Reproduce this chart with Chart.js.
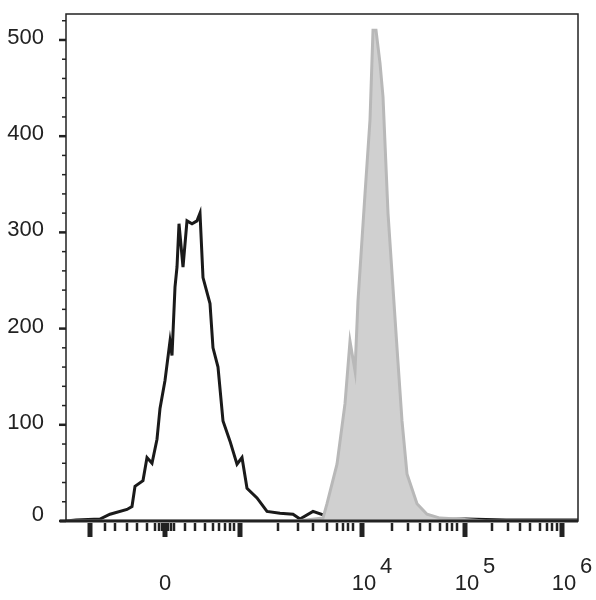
<!DOCTYPE html>
<html><head><meta charset="utf-8">
<script src="https://cdn.jsdelivr.net/npm/chart.js@4"></script>
<style>html,body{margin:0;background:#fff}#wrap{width:596px;height:600px}</style>
</head><body><div id="wrap"><canvas id="c"></canvas></div>
<script>
// channel = horizontal position on the biexponential display scale (0..512)
const unstainedX = [0,10,34,44,61,66,69,77,81,86,91,94,99,104,106,109,111,113,117,121,126,131,134,137,144,147,152,157,164,171,176,181,191,201,214,227,234,247,261,280,300,330,360,400,440,480,512];
const unstainedY = [0,1,2,7,12,15,36,42,66,60,85,117,146,187,172,243,264,309,264,312,309,312,320,253,226,180,160,104,83,59,66,34,24,10,8,7,2,10,5,4,3,2,1,2,1,1,1];
const stainedX = [0,230,240,257,261,271,279,284,289,292,299,304,307,310,314,317,322,331,336,341,351,361,374,391,420,512];
const stainedY = [0,0,1,3,18,59,122,187,156,229,340,417,510,510,476,441,320,180,104,49,18,7,3,2,0,0];
const yMajor = [0,100,200,300,400,500];
const yMinor = [20,40,60,80,120,140,160,180,220,240,260,280,320,340,360,380,420,440,460,480,520];
const xMajor = [24,99,174,296,399,496];
const xMinor = [39,49,61,71,81,89,93,96,102,105,108,119,129,139,147,153,159,164,168,212,232,247,261,271,277,282,287,326,342,354,364,374,381,386,391,426,442,454,464,474,481,486,491];
const xLabels = [{v:99,base:'0',sup:''},{v:296,base:'10',sup:'4'},{v:399,base:'10',sup:'5'},{v:496,base:'10',sup:'6'}];

const toPts = (xs, ys) => xs.map((x, i) => ({ x, y: ys[i] }));

Chart.register({
  id: 'flowAxes',
  afterDraw(chart) {
    const { ctx, chartArea: a, scales: { x, y } } = chart;
    ctx.save();
    ctx.strokeStyle = '#222';
    ctx.lineWidth = 1.5;
    ctx.strokeRect(a.left, a.top, a.right - a.left, a.bottom - a.top);
    ctx.lineWidth = 3;
    ctx.beginPath(); ctx.moveTo(a.left - 6, a.bottom); ctx.lineTo(a.right, a.bottom); ctx.stroke();
    // y ticks
    ctx.lineWidth = 2.5;
    yMajor.forEach(v => { const p = y.getPixelForValue(v); ctx.beginPath(); ctx.moveTo(a.left - 7, p); ctx.lineTo(a.left, p); ctx.stroke(); });
    ctx.lineWidth = 1.5;
    yMinor.forEach(v => { const p = y.getPixelForValue(v); ctx.beginPath(); ctx.moveTo(a.left - 4, p); ctx.lineTo(a.left, p); ctx.stroke(); });
    ctx.fillStyle = '#222';
    ctx.font = '22px "Liberation Sans", Arial';
    ctx.textAlign = 'right'; ctx.textBaseline = 'middle';
    yMajor.forEach(v => ctx.fillText(String(v), a.left - 22, y.getPixelForValue(v) - (v === 0 ? 6 : 2)));
    // x ticks
    ctx.lineWidth = 5;
    xMajor.forEach(v => { const p = x.getPixelForValue(v); ctx.beginPath(); ctx.moveTo(p, a.bottom + 2); ctx.lineTo(p, a.bottom + 16); ctx.stroke(); });
    ctx.lineWidth = 2.5;
    xMinor.forEach(v => { const p = x.getPixelForValue(v); ctx.beginPath(); ctx.moveTo(p, a.bottom + 2); ctx.lineTo(p, a.bottom + 10); ctx.stroke(); });
    ctx.textAlign = 'center'; ctx.textBaseline = 'alphabetic';
    ctx.font = '22px "Liberation Sans", Arial';
    xLabels.forEach(l => {
      const p = x.getPixelForValue(l.v);
      ctx.fillText(l.base, p + (l.sup ? 2 : 0), 590);
      if (l.sup) ctx.fillText(l.sup, p + 24, 573);
    });
    ctx.restore();
  }
});

new Chart(document.getElementById('c'), {
  type: 'line',
  data: {
    datasets: [
      { label: 'Stained', data: toPts(stainedX, stainedY), borderColor: '#b8b8b8', backgroundColor: '#d0d0d0', fill: 'origin', borderWidth: 3, pointRadius: 0, tension: 0 },
      { label: 'Unstained', data: toPts(unstainedX, unstainedY), borderColor: '#1a1a1a', backgroundColor: 'transparent', fill: false, borderWidth: 3, pointRadius: 0, tension: 0 },
    ],
  },
  options: {
    responsive: true, maintainAspectRatio: false, animation: false,
    layout: { padding: { left: 66, right: 18, top: 14, bottom: 79 } },
    plugins: { legend: { display: false }, tooltip: { enabled: false } },
    scales: {
      x: { type: 'linear', min: 0, max: 512, display: false },
      y: { min: 0, max: 527, display: false },
    },
  },
});
</script></body></html>
